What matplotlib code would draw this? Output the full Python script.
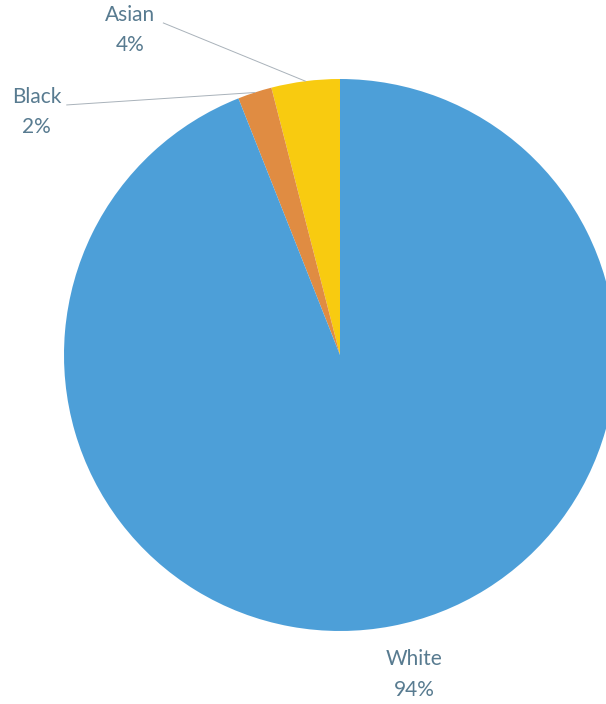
import numpy as np
import matplotlib
matplotlib.use("Agg")
import matplotlib.pyplot as plt

# data
groups = ['Asian', 'Black', 'White']
shares = [4, 2, 94]
colours = ['#f8cb10', '#e08c42', '#4d9fd8']

# label positions (data units, radius = 1)
label_pos = [(-0.76, 1.178), (-1.10, 0.88), (0.27, -1.157)]
line_start = [(-0.64, 1.203), (-0.99, 0.906), None]

W, H = 606, 704
fig = plt.figure(figsize=(W / 100, H / 100), dpi=100)
cx, cy, r = 340, 355, 276
ax = fig.add_axes([(cx - r) / W, (H - cy - r) / H, 2 * r / W, 2 * r / H])

wedges, _ = ax.pie(shares, colors=colours, startangle=90, counterclock=True,
                   radius=1, wedgeprops=dict(linewidth=0))
for w in wedges:
    w.set_clip_on(False)
ax.set_xlim(-1, 1)
ax.set_ylim(-1, 1)
ax.set_aspect('equal')
ax.axis('off')

# leader lines and labels
angles = 90 + 360 * (np.cumsum(shares) - np.array(shares) / 2) / 100
txt_col = '#587b90'
for name, s, a, (lx, ly), st in zip(groups, shares, angles, label_pos, line_start):
    if st is not None:
        ex, ey = np.cos(np.radians(a)), np.sin(np.radians(a))
        ax.plot([st[0], ex], [st[1], ey], color='#a9b2ba', lw=0.7, clip_on=False)
    ax.text(lx, ly, f'{name}\n{s}%', ha='center', va='center', fontsize=15,
            color=txt_col, family='Lato', linespacing=1.65, clip_on=False)

fig.savefig('out.png', dpi=100)
